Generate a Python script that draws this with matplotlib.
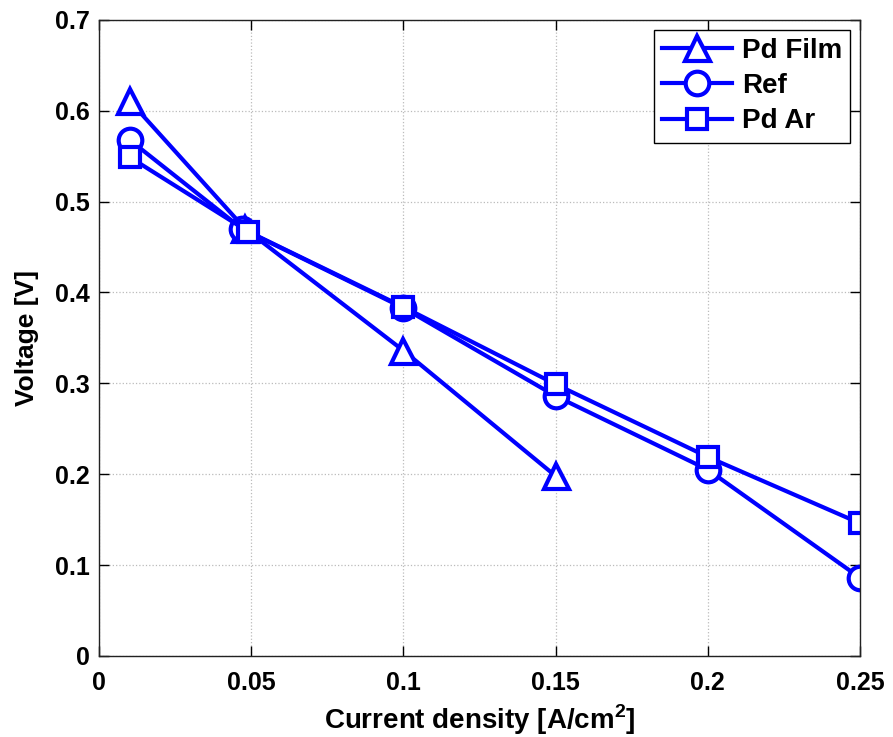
import matplotlib
matplotlib.use("Agg")
import matplotlib.pyplot as plt

plt.rcParams['font.family'] = ['Liberation Sans', 'DejaVu Sans']
plt.rcParams['font.weight'] = 'bold'
plt.rcParams['mathtext.fontset'] = 'custom'
plt.rcParams['mathtext.bf'] = 'Liberation Sans:bold'

film_x = [0.01, 0.048, 0.10, 0.15]
film_y = [0.611, 0.470, 0.336, 0.198]

ref_x = [0.01, 0.047, 0.10, 0.15, 0.20, 0.25]
ref_y = [0.568, 0.470, 0.383, 0.286, 0.205, 0.086]

ar_x = [0.01, 0.049, 0.10, 0.15, 0.20, 0.25]
ar_y = [0.549, 0.467, 0.384, 0.299, 0.219, 0.146]

xticks = [0, 0.05, 0.1, 0.15, 0.2, 0.25]
xticklabels = ['0', '0.05', '0.1', '0.15', '0.2', '0.25']
yticks = [0, 0.1, 0.2, 0.3, 0.4, 0.5, 0.6, 0.7]
yticklabels = ['0', '0.1', '0.2', '0.3', '0.4', '0.5', '0.6', '0.7']

fig = plt.figure(figsize=(8.93, 7.37), dpi=100)
ax = fig.add_axes([0.111, 0.110, 0.852, 0.863])

blue = '#0000ff'
common = dict(color=blue, lw=3, mew=3, mfc='white', mec=blue)
ax.plot(film_x, film_y, marker='^', ms=18, label='Pd Film', **common)
ax.plot(ref_x, ref_y, marker='o', ms=17, label='Ref', **common)
ax.plot(ar_x, ar_y, marker='s', ms=14, label='Pd Ar', **common)

ax.set_xlim(0, 0.25)
ax.set_ylim(0, 0.7)
ax.set_xticks(xticks)
ax.set_xticklabels(xticklabels)
ax.set_yticks(yticks)
ax.set_yticklabels(yticklabels)
ax.tick_params(direction='in', length=7, width=1, labelsize=18, pad=7,
               top=True, right=True)
ax.tick_params(axis='x', pad=11)
for lbl in ax.get_xticklabels() + ax.get_yticklabels():
    lbl.set_fontweight('bold')
ax.grid(True, linestyle=':', color='#bbbbbb', lw=0.9)
for s in ax.spines.values():
    s.set_linewidth(1.0)
    s.set_color('#222222')

ax.set_xlabel('Current density [A/cm$^{\\mathbf{2}}$]', fontsize=20, fontweight='bold', labelpad=5)
ax.set_ylabel('Voltage [V]', fontsize=19, fontweight='bold', labelpad=11)

leg = ax.legend(loc='upper right', fontsize=20, fancybox=False, framealpha=1,
                edgecolor='black', handlelength=2.5, borderpad=0.3,
                labelspacing=0.33, handletextpad=0.36, borderaxespad=0.35)
leg.get_frame().set_linewidth(1.0)
for t in leg.get_texts():
    t.set_fontweight('bold')

fig.savefig('out.png', dpi=100)
